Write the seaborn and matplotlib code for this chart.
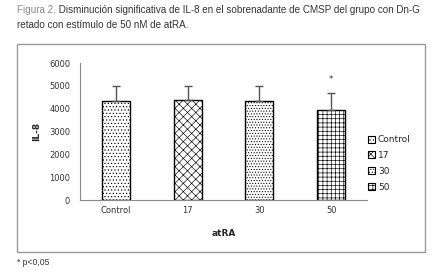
import numpy as np
import pandas as pd
import matplotlib
matplotlib.use('Agg')
import matplotlib.pyplot as plt
from matplotlib.patches import Rectangle
import seaborn as sns

# values
groups = ['Control', '17', '30', '50']
il8_mean = [4350, 4380, 4350, 3950]
il8_err = [650, 620, 650, 760]
hatches = ['.....', 'xxxx', '......', '++++']

df = pd.DataFrame({'atRA': groups, 'IL8': il8_mean})

sns.set_style('white')
plt.rcParams['font.family'] = ['DejaVu Sans']
plt.rcParams['hatch.linewidth'] = 0.45

fig = plt.figure(figsize=(4.32, 2.73), dpi=100)
ax = fig.add_axes([0.185, 0.267, 0.665, 0.502])

sns.barplot(data=df, x='atRA', y='IL8', hue='atRA', order=groups, hue_order=groups,
            dodge=False, width=0.39, palette=['white'] * 4, edgecolor='black',
            linewidth=1.0, legend=False, ax=ax)

for bar, h in zip(ax.patches, hatches):
    bar.set_hatch(h)

# upper-only error bars
ax.errorbar(np.arange(len(groups)), il8_mean, yerr=[np.zeros(4), il8_err],
            fmt='none', ecolor='#555555', elinewidth=1.0, capsize=3, capthick=1.0)
ax.text(3, 5080, '*', ha='center', va='bottom', fontsize=6, color='#333333')

ax.set_ylim(0, 6000)
ax.set_yticks(range(0, 6001, 1000))
ax.set_xlim(-0.5, 3.5)
ax.set_ylabel('IL-8', fontsize=6.5, fontweight='bold', labelpad=6)
ax.set_xlabel('atRA', fontsize=6.5, fontweight='bold', labelpad=10)
ax.tick_params(axis='both', labelsize=6, colors='#333333', length=0, pad=4)
ax.set_xticks(range(4))
ax.set_xticks(np.arange(-0.5, 4, 1), minor=True)
ax.tick_params(axis='x', which='minor', length=3, color='#888888', direction='out')
ax.tick_params(axis='y', length=3, color='#888888', direction='out')
for s in ['top', 'right']:
    ax.spines[s].set_visible(False)
for s in ['left', 'bottom']:
    ax.spines[s].set_color('#888888')
    ax.spines[s].set_linewidth(0.8)

handles = [Rectangle((0, 0), 1, 1, facecolor='white', edgecolor='black', hatch=h, linewidth=0.8)
           for h in hatches]
ax.legend(handles, groups, loc='upper left', bbox_to_anchor=(0.99, 0.50), frameon=False,
          fontsize=6.5, handlelength=0.8, handleheight=0.8, handletextpad=0.3,
          labelspacing=0.75, borderaxespad=0)

# chart area border
fig.patches.append(Rectangle((0.039, 0.077), 0.944, 0.762, transform=fig.transFigure,
                             fill=False, edgecolor='#999999', linewidth=1.0))

title_font = ['Liberation Sans', 'DejaVu Sans']
fig_lbl = fig.text(0.039, 0.962, 'Figura 2.', fontsize=7.1, color='#888888',
                   family=title_font, va='center')
ax.annotate(' Disminución significativa de IL-8 en el sobrenadante de CMSP del grupo con Dn-G',
            xy=(1, 0), xycoords=fig_lbl, fontsize=7.1, color='#333333',
            family=title_font, va='bottom', annotation_clip=False)
fig.text(0.039, 0.91, 'retado con estímulo de 50 nM de atRA.', fontsize=7.1, color='#333333',
         family=title_font, va='center')
fig.text(0.039, 0.04, '* p<0,05', fontsize=6.2, color='#333333', family=title_font,
         va='center')

fig.savefig('out.png', dpi=100)
